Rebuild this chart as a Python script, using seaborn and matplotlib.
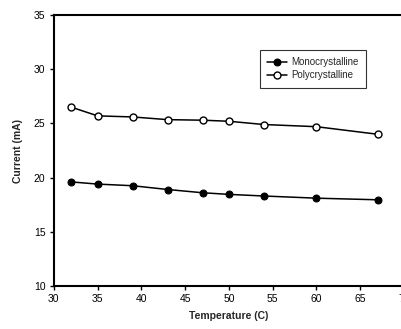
import seaborn as sns
import pandas as pd
import matplotlib.pyplot as plt

temperature = [32, 35, 39, 43, 47, 50, 54, 60, 67]
mono = [19.6, 19.4, 19.25, 18.9, 18.6, 18.45, 18.3, 18.1, 17.95]
poly = [26.5, 25.7, 25.6, 25.35, 25.3, 25.2, 24.9, 24.7, 24.0]

sns.set_theme(style="ticks")
plt.rcParams['font.family'] = ['Liberation Sans', 'DejaVu Sans']

fig = plt.figure(figsize=(4.02, 3.29), dpi=100)
ax = fig.add_axes([0.134, 0.131, 0.871, 0.823])

sns.lineplot(x=temperature, y=mono, ax=ax, color="black", linewidth=1.1,
             marker="o", markersize=5, markerfacecolor="black",
             markeredgecolor="black", label="Monocrystalline")
sns.lineplot(x=temperature, y=poly, ax=ax, color="black", linewidth=1.1,
             marker="o", markersize=5, markerfacecolor="white",
             markeredgecolor="black", markeredgewidth=1, label="Polycrystalline")

ax.set_xlim(30, 70)
ax.set_ylim(10, 35)
ax.set_xticks(range(30, 71, 5))
ax.set_yticks(range(10, 36, 5))
ax.tick_params(labelsize=7.5, length=3, width=1, colors="black", pad=3)
for s in ["left", "bottom", "top"]:
    ax.spines[s].set_linewidth(1.5)
    ax.spines[s].set_color("black")
ax.spines["top"].set_visible(True)

ax.set_xlabel("Temperature (C)", fontsize=7.5, fontweight="bold", labelpad=5)
ax.set_ylabel("Current (mA)", fontsize=7.5, fontweight="bold", labelpad=8)

leg = ax.legend(loc="upper left", bbox_to_anchor=(0.575, 0.89), fontsize=7,
                frameon=True, fancybox=False, handlelength=2.0, borderpad=0.75,
                labelspacing=0.35, handletextpad=0.5)
leg.get_frame().set_edgecolor("black")
leg.get_frame().set_linewidth(0.8)

fig.savefig("out.png", dpi=100)
